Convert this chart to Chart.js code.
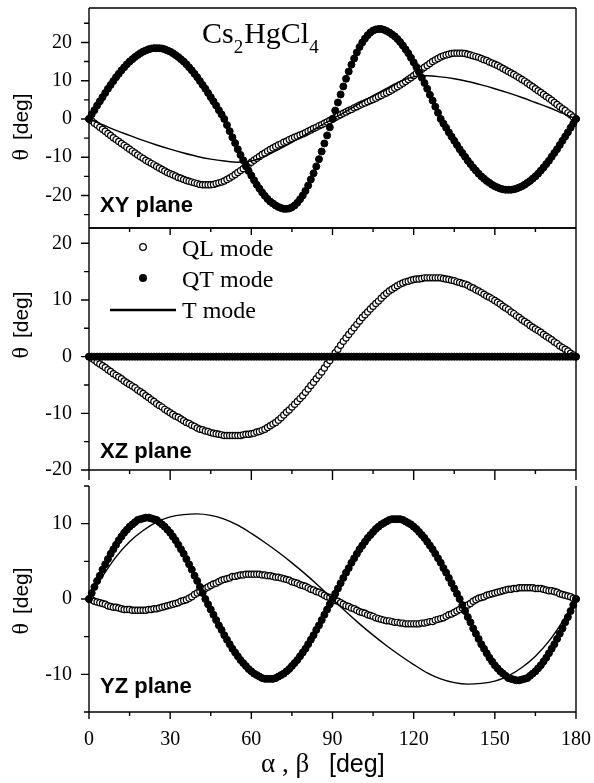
<!DOCTYPE html>
<html>
<head>
<meta charset="utf-8">
<script src="https://cdn.jsdelivr.net/npm/chart.js@4.4.1/dist/chart.umd.min.js"></script>
<style>
  html, body { margin: 0; padding: 0; background: #fff; }
  #wrap { position: relative; width: 594px; height: 783px; }
  #wrap canvas { position: absolute; left: 0; top: 0; }
</style>
</head>
<body>
<div id="wrap">
  <canvas id="xy" width="594" height="783"></canvas>
  <canvas id="xz" width="594" height="783"></canvas>
  <canvas id="yz" width="594" height="783"></canvas>
</div>
<script>
'use strict';

const SERIF = '"Liberation Serif", "DejaVu Serif", serif';
const SANS  = '"Liberation Sans", Arial, sans-serif';

/* ── Data (angles in deg) ─────────────────────────────── */
const MARK_STEP = 1;   // QL / QT markers every 1 deg, 0..180
const LINE_STEP = 5;   // T mode samples every 5 deg, 0..180

const X_TICKS = [0, 30, 60, 90, 120, 150, 180];
const X_MINOR = [15, 45, 75, 105, 135, 165];

const XY_YTICKS = [-20, -10, 0, 10, 20];
const XY_YMINOR = [-25, -15, -5, 5, 15, 25];
const XZ_YTICKS = [-20, -10, 0, 10, 20];
const XZ_YMINOR = [-15, -5, 5, 15];
const YZ_YTICKS = [-10, 0, 10];
const YZ_YMINOR = [-15, -5, 5, 15];

// XY plane
const XY_QT = [
  0, 1.2, 2.3, 3.5, 4.6, 5.7, 6.8, 7.9, 8.9, 9.9,
  10.9, 11.8, 12.7, 13.5, 14.3, 15.0, 15.6, 16.2, 16.7, 17.2,
  17.6, 17.9, 18.2, 18.4, 18.5, 18.5, 18.5, 18.4, 18.2, 17.9,
  17.6, 17.2, 16.7, 16.2, 15.6, 15.0, 14.3, 13.5, 12.7, 11.8,
  10.9, 9.9, 8.9, 7.9, 6.8, 5.7, 4.6, 3.5, 2.3, 1.2,
  0, -1.6, -3.2, -4.8, -6.3, -7.9, -9.4, -10.8, -12.2, -13.6,
  -14.8, -16.0, -17.2, -18.2, -19.2, -20.1, -20.9, -21.6, -22.1, -22.6,
  -23.0, -23.3, -23.5, -23.5, -23.4, -23.1, -22.6, -21.9, -21.0, -20.0,
  -18.8, -17.4, -15.8, -14.2, -12.4, -10.5, -8.5, -6.4, -4.3, -2.2,
  0, 2.2, 4.3, 6.4, 8.5, 10.5, 12.4, 14.2, 15.8, 17.4,
  18.8, 20.0, 21.0, 21.9, 22.6, 23.1, 23.4, 23.5, 23.5, 23.3,
  23.0, 22.6, 22.1, 21.6, 20.9, 20.1, 19.2, 18.2, 17.2, 16.0,
  14.8, 13.6, 12.2, 10.8, 9.4, 7.9, 6.3, 4.8, 3.2, 1.6,
  0, -1.2, -2.3, -3.5, -4.6, -5.7, -6.8, -7.9, -8.9, -9.9,
  -10.9, -11.8, -12.7, -13.5, -14.3, -15.0, -15.6, -16.2, -16.7, -17.2,
  -17.6, -17.9, -18.2, -18.4, -18.5, -18.5, -18.5, -18.4, -18.2, -17.9,
  -17.6, -17.2, -16.7, -16.2, -15.6, -15.0, -14.3, -13.5, -12.7, -11.8,
  -10.9, -9.9, -8.9, -7.9, -6.8, -5.7, -4.6, -3.5, -2.3, -1.2,
  0
];
const XY_QL = [
  0, -0.5, -1.1, -1.6, -2.2, -2.7, -3.2, -3.8, -4.3, -4.9,
  -5.4, -5.9, -6.4, -6.9, -7.4, -7.9, -8.4, -8.9, -9.4, -9.9,
  -10.3, -10.8, -11.2, -11.6, -12.0, -12.4, -12.8, -13.2, -13.6, -14.0,
  -14.3, -14.6, -14.9, -15.3, -15.5, -15.8, -16.1, -16.3, -16.5, -16.7,
  -16.9, -17.1, -17.2, -17.2, -17.2, -17.2, -17.1, -16.9, -16.7, -16.5,
  -16.2, -15.8, -15.4, -15.0, -14.5, -14.0, -13.5, -13.0, -12.4, -11.9,
  -11.3, -10.8, -10.3, -9.8, -9.3, -8.9, -8.4, -8.0, -7.6, -7.2,
  -6.8, -6.5, -6.1, -5.8, -5.4, -5.1, -4.8, -4.5, -4.2, -3.9,
  -3.6, -3.2, -2.9, -2.5, -2.2, -1.8, -1.5, -1.1, -0.8, -0.4,
  0, 0.4, 0.8, 1.1, 1.5, 1.8, 2.2, 2.5, 2.9, 3.2,
  3.6, 3.9, 4.2, 4.5, 4.8, 5.1, 5.4, 5.8, 6.1, 6.5,
  6.8, 7.2, 7.6, 8.0, 8.4, 8.9, 9.3, 9.8, 10.3, 10.8,
  11.3, 11.9, 12.4, 13.0, 13.5, 14.0, 14.5, 15.0, 15.4, 15.8,
  16.2, 16.5, 16.7, 16.9, 17.1, 17.2, 17.2, 17.2, 17.2, 17.1,
  16.9, 16.7, 16.5, 16.3, 16.1, 15.8, 15.5, 15.3, 14.9, 14.6,
  14.3, 14.0, 13.6, 13.2, 12.8, 12.4, 12.0, 11.6, 11.2, 10.8,
  10.3, 9.9, 9.4, 8.9, 8.4, 7.9, 7.4, 6.9, 6.4, 5.9,
  5.4, 4.9, 4.3, 3.8, 3.2, 2.7, 2.2, 1.6, 1.1, 0.5,
  0
];
const XY_T = [
  0, -1.5, -3.0, -4.3, -5.6, -6.8, -7.9, -8.9, -9.8, -10.5,
  -11.0, -11.3, -11.0, -9.8, -8.0, -6.1, -4.1, -2.0, 0,
  2.0, 4.1, 6.1, 8.0, 9.8, 11.0, 11.3, 11.0, 10.5, 9.8,
  8.9, 7.9, 6.8, 5.6, 4.3, 3.0, 1.5, 0
];

// XZ plane
const XZ_QL = [
  0, -0.3, -0.6, -1.0, -1.3, -1.6, -1.9, -2.3, -2.6, -3.0,
  -3.3, -3.6, -3.9, -4.3, -4.6, -4.9, -5.2, -5.5, -5.9, -6.2,
  -6.5, -6.9, -7.2, -7.6, -7.9, -8.3, -8.6, -8.9, -9.3, -9.6,
  -9.9, -10.2, -10.5, -10.7, -11.0, -11.3, -11.6, -11.8, -12.1, -12.3,
  -12.6, -12.8, -12.9, -13.1, -13.2, -13.4, -13.5, -13.6, -13.7, -13.8,
  -13.9, -13.9, -13.9, -13.9, -13.9, -13.9, -13.9, -13.8, -13.7, -13.7,
  -13.6, -13.5, -13.3, -13.2, -13.0, -12.8, -12.5, -12.2, -11.9, -11.6,
  -11.2, -10.8, -10.3, -9.8, -9.4, -8.9, -8.4, -7.9, -7.4, -6.9,
  -6.3, -5.7, -5.1, -4.5, -3.9, -3.3, -2.7, -2.0, -1.3, -0.7,
  0, 0.7, 1.3, 2.0, 2.7, 3.3, 3.9, 4.5, 5.1, 5.7,
  6.3, 6.9, 7.4, 7.9, 8.4, 8.9, 9.4, 9.8, 10.3, 10.8,
  11.2, 11.6, 11.9, 12.2, 12.5, 12.8, 13.0, 13.2, 13.3, 13.5,
  13.6, 13.7, 13.7, 13.8, 13.9, 13.9, 13.9, 13.9, 13.9, 13.9,
  13.9, 13.8, 13.7, 13.6, 13.5, 13.4, 13.2, 13.1, 12.9, 12.8,
  12.6, 12.3, 12.1, 11.8, 11.6, 11.3, 11.0, 10.7, 10.5, 10.2,
  9.9, 9.6, 9.3, 8.9, 8.6, 8.3, 7.9, 7.6, 7.2, 6.9,
  6.5, 6.2, 5.9, 5.5, 5.2, 4.9, 4.6, 4.3, 3.9, 3.6,
  3.3, 3.0, 2.6, 2.3, 1.9, 1.6, 1.3, 1.0, 0.6, 0.3,
  0
];
const XZ_QT = [
  0, 0, 0, 0, 0, 0, 0, 0, 0, 0,  0, 0, 0, 0, 0, 0, 0, 0, 0, 0,
  0, 0, 0, 0, 0, 0, 0, 0, 0, 0,  0, 0, 0, 0, 0, 0, 0, 0, 0, 0,
  0, 0, 0, 0, 0, 0, 0, 0, 0, 0,  0, 0, 0, 0, 0, 0, 0, 0, 0, 0,
  0, 0, 0, 0, 0, 0, 0, 0, 0, 0,  0, 0, 0, 0, 0, 0, 0, 0, 0, 0,
  0, 0, 0, 0, 0, 0, 0, 0, 0, 0,  0, 0, 0, 0, 0, 0, 0, 0, 0, 0,
  0, 0, 0, 0, 0, 0, 0, 0, 0, 0,  0, 0, 0, 0, 0, 0, 0, 0, 0, 0,
  0, 0, 0, 0, 0, 0, 0, 0, 0, 0,  0, 0, 0, 0, 0, 0, 0, 0, 0, 0,
  0, 0, 0, 0, 0, 0, 0, 0, 0, 0,  0, 0, 0, 0, 0, 0, 0, 0, 0, 0,
  0, 0, 0, 0, 0, 0, 0, 0, 0, 0,  0, 0, 0, 0, 0, 0, 0, 0, 0, 0,
  0
];
const XZ_T = [
  0, 0, 0, 0, 0, 0, 0, 0, 0, 0, 0, 0, 0, 0, 0, 0, 0, 0, 0,
  0, 0, 0, 0, 0, 0, 0, 0, 0, 0, 0, 0, 0, 0, 0, 0, 0, 0
];

// YZ plane
const YZ_QT = [
  0, 0.8, 1.6, 2.4, 3.1, 3.9, 4.6, 5.3, 6.0, 6.6,
  7.2, 7.8, 8.3, 8.8, 9.2, 9.6, 9.9, 10.2, 10.5, 10.6,
  10.7, 10.8, 10.8, 10.7, 10.6, 10.5, 10.2, 9.9, 9.6, 9.2,
  8.8, 8.3, 7.8, 7.2, 6.6, 6.0, 5.3, 4.6, 3.9, 3.1,
  2.4, 1.6, 0.8, 0, -0.7, -1.4, -2.1, -2.8, -3.5, -4.1,
  -4.8, -5.4, -6.0, -6.6, -7.1, -7.6, -8.1, -8.5, -8.9, -9.3,
  -9.6, -9.9, -10.1, -10.3, -10.5, -10.6, -10.6, -10.6, -10.6, -10.5,
  -10.3, -10.1, -9.9, -9.6, -9.3, -8.9, -8.5, -8.1, -7.6, -7.1,
  -6.6, -6.0, -5.4, -4.8, -4.1, -3.5, -2.8, -2.1, -1.4, -0.7,
  0, 0.7, 1.4, 2.1, 2.8, 3.5, 4.1, 4.8, 5.4, 6.0,
  6.6, 7.1, 7.6, 8.1, 8.5, 8.9, 9.3, 9.6, 9.9, 10.1,
  10.3, 10.5, 10.6, 10.6, 10.6, 10.6, 10.5, 10.3, 10.1, 9.9,
  9.6, 9.3, 8.9, 8.5, 8.1, 7.6, 7.1, 6.6, 6.0, 5.4,
  4.8, 4.1, 3.5, 2.8, 2.1, 1.4, 0.7, 0, -0.8, -1.6,
  -2.4, -3.1, -3.9, -4.6, -5.3, -6.0, -6.6, -7.2, -7.8, -8.3,
  -8.8, -9.2, -9.6, -9.9, -10.2, -10.5, -10.6, -10.7, -10.8, -10.8,
  -10.7, -10.6, -10.5, -10.2, -9.9, -9.6, -9.2, -8.8, -8.3, -7.8,
  -7.2, -6.6, -6.0, -5.3, -4.6, -3.9, -3.1, -2.4, -1.6, -0.8,
  0
];
const YZ_QL = [
  0, -0.1, -0.3, -0.4, -0.5, -0.6, -0.7, -0.9, -1.0, -1.1,
  -1.1, -1.2, -1.3, -1.4, -1.4, -1.4, -1.5, -1.5, -1.5, -1.5,
  -1.5, -1.5, -1.4, -1.4, -1.3, -1.3, -1.2, -1.1, -1.0, -0.9,
  -0.8, -0.7, -0.6, -0.5, -0.3, -0.2, -0.1, 0.1, 0.3, 0.6,
  0.8, 1.0, 1.2, 1.4, 1.6, 1.8, 2.0, 2.1, 2.3, 2.5,
  2.6, 2.7, 2.8, 3.0, 3.0, 3.1, 3.2, 3.2, 3.3, 3.3,
  3.3, 3.3, 3.3, 3.3, 3.2, 3.2, 3.1, 3.1, 3.0, 2.9,
  2.9, 2.8, 2.7, 2.6, 2.5, 2.3, 2.2, 2.1, 1.9, 1.8,
  1.7, 1.5, 1.3, 1.2, 1.0, 0.9, 0.7, 0.5, 0.3, 0.2,
  0, -0.2, -0.3, -0.5, -0.7, -0.9, -1.0, -1.2, -1.3, -1.5,
  -1.7, -1.8, -1.9, -2.1, -2.2, -2.3, -2.5, -2.6, -2.7, -2.8,
  -2.9, -2.9, -3.0, -3.1, -3.1, -3.2, -3.2, -3.3, -3.3, -3.3,
  -3.3, -3.3, -3.3, -3.2, -3.2, -3.1, -3.0, -3.0, -2.8, -2.7,
  -2.6, -2.5, -2.3, -2.1, -2.0, -1.8, -1.6, -1.4, -1.2, -1.0,
  -0.8, -0.6, -0.3, -0.1, 0.1, 0.2, 0.3, 0.5, 0.6, 0.7,
  0.8, 0.9, 1.0, 1.1, 1.2, 1.3, 1.3, 1.4, 1.4, 1.5,
  1.5, 1.5, 1.5, 1.5, 1.5, 1.4, 1.4, 1.4, 1.3, 1.2,
  1.1, 1.1, 1.0, 0.9, 0.7, 0.6, 0.5, 0.4, 0.3, 0.1,
  0
];
const YZ_T = [
  0, 3.0, 5.6, 7.6, 9.1, 10.2, 10.9, 11.2, 11.3, 11.1,
  10.6, 9.8, 8.7, 7.5, 6.2, 4.8, 3.3, 1.7, 0,
  -1.7, -3.3, -4.8, -6.2, -7.5, -8.7, -9.8, -10.6, -11.1, -11.3,
  -11.2, -10.9, -10.2, -9.1, -7.6, -5.6, -3.0, 0
];

/* ── Helpers ──────────────────────────────────────────── */
function markers(values, filled) {
  return {
    data: values.map((v, i) => ({ x: i * MARK_STEP, y: v })),
    showLine: false,
    pointRadius: filled ? 3.5 : 3.1,
    pointBorderWidth: filled ? 1 : 1.2,
    pointBackgroundColor: filled ? '#000' : '#fff',
    pointBorderColor: '#000',
    clip: false,
  };
}

function line(values) {
  return {
    data: values.map((v, i) => ({ x: i * LINE_STEP, y: v })),
    showLine: true,
    pointRadius: 0,
    borderColor: '#000',
    borderWidth: 1.4,
    tension: 0.4,
    cubicInterpolationMode: 'monotone',
    clip: false,
  };
}

// draws text pieces one after another: [text, font, gapBefore, dy]
function runs(ctx, parts, x, y) {
  parts.forEach(([text, font, gap, dy]) => {
    ctx.font = font;
    x += gap || 0;
    ctx.fillText(text, x, y + (dy || 0));
    x += ctx.measureText(text).width;
  });
}

function yTitle(ctx, cy) {
  ctx.save();
  ctx.translate(28, cy);
  ctx.rotate(-Math.PI / 2);
  ctx.textAlign = 'left';
  ctx.textBaseline = 'alphabetic';
  ctx.font = '24px ' + SERIF;
  const w1 = ctx.measureText('\u03b8').width;
  ctx.font = '21px ' + SANS;
  const w2 = ctx.measureText('[deg]').width;
  const gap = 9;
  const x0 = -(w1 + gap + w2) / 2;
  ctx.font = '24px ' + SERIF;
  ctx.fillText('\u03b8', x0, 0);
  ctx.font = '21px ' + SANS;
  ctx.fillText('[deg]', x0 + w1 + gap, 0);
  ctx.restore();
}

/* ── Panel-specific decorations ───────────────────────── */
function drawFormula(ctx) {
  ctx.textAlign = 'left';
  ctx.textBaseline = 'alphabetic';
  const big = '30px ' + SERIF, sub = '19px ' + SERIF;
  runs(ctx, [['Cs', big], ['2', sub, 0, 10], ['HgCl', big, 1], ['4', sub, 0, 10]], 202, 43);
}

function drawLegend(ctx) {
  ctx.save();
  ctx.strokeStyle = '#000';
  ctx.fillStyle = '#000';
  ctx.lineWidth = 1.3;
  ctx.beginPath(); ctx.arc(143, 247, 3.3, 0, Math.PI * 2); ctx.stroke();
  ctx.beginPath(); ctx.arc(143, 278, 4, 0, Math.PI * 2); ctx.fill();
  ctx.lineWidth = 2.5;
  ctx.beginPath(); ctx.moveTo(110, 310); ctx.lineTo(176, 310); ctx.stroke();
  ctx.font = '24px ' + SERIF;
  ctx.textAlign = 'left';
  ctx.textBaseline = 'alphabetic';
  ctx.fillText('QL mode', 182, 256);
  ctx.fillText('QT mode', 182, 287);
  ctx.fillText('T mode', 182, 318);
  ctx.restore();
}

function drawXTitle(ctx) {
  ctx.textAlign = 'left';
  ctx.textBaseline = 'alphabetic';
  ctx.font = '27px ' + SERIF;
  ctx.fillText('\u03b1 , \u03b2', 261, 772);
  ctx.font = '25px ' + SANS;
  ctx.fillText('[deg]', 329, 772);
}

const PANELS = [
  { id: 'xy', top: 8, bottom: 228, yMin: -28.5, yMax: 29,
    yTicks: XY_YTICKS, yMinor: XY_YMINOR, ql: XY_QL, qt: XY_QT, t: XY_T,
    name: 'XY plane', nameY: 212, titleY: 127,
    topLine: true, topTicks: false, downTicks: 0, showX: false, extra: drawFormula },
  { id: 'xz', top: 228, bottom: 470, yMin: -20, yMax: 22.7,
    yTicks: XZ_YTICKS, yMinor: XZ_YMINOR, ql: XZ_QL, qt: XZ_QT, t: XZ_T,
    name: 'XZ plane', nameY: 458, titleY: 325,
    topLine: true, topTicks: true, downTicks: 10, showX: false, extra: drawLegend },
  { id: 'yz', top: 486, bottom: 712, yMin: -15, yMax: 15,
    yTicks: YZ_YTICKS, yMinor: YZ_YMINOR, ql: YZ_QL, qt: YZ_QT, t: YZ_T,
    name: 'YZ plane', nameY: 693, titleY: 601,
    topLine: false, topTicks: false, downTicks: 7, showX: true, extra: drawXTitle },
];

/* ── Frame, ticks and texts ───────────────────────────── */
function framePlugin(p) {
  return {
    id: 'frame-' + p.id,
    afterDatasetsDraw(chart) {
      const { ctx, chartArea: a } = chart;
      const xs = chart.scales.x, ys = chart.scales.y;
      ctx.save();
      ctx.strokeStyle = '#000';
      ctx.lineWidth = 1.4;
      ctx.beginPath();
      ctx.moveTo(a.left, a.top);  ctx.lineTo(a.left, a.bottom);
      ctx.moveTo(a.right, a.top); ctx.lineTo(a.right, a.bottom);
      ctx.moveTo(a.left, a.bottom); ctx.lineTo(a.right, a.bottom);
      if (p.topLine) { ctx.moveTo(a.left, a.top); ctx.lineTo(a.right, a.top); }

      p.yTicks.forEach(v => { const py = ys.getPixelForValue(v); ctx.moveTo(a.left - 8, py); ctx.lineTo(a.left, py); });
      p.yMinor.forEach(v => { const py = ys.getPixelForValue(v); ctx.moveTo(a.left - 5, py); ctx.lineTo(a.left, py); });

      if (p.topTicks) {
        X_TICKS.forEach(v => { const px = xs.getPixelForValue(v); ctx.moveTo(px, a.top); ctx.lineTo(px, a.top + 7); });
        X_MINOR.forEach(v => { const px = xs.getPixelForValue(v); ctx.moveTo(px, a.top); ctx.lineTo(px, a.top + 4); });
      }
      if (p.downTicks) {
        X_TICKS.forEach(v => { const px = xs.getPixelForValue(v); ctx.moveTo(px, a.bottom); ctx.lineTo(px, a.bottom + p.downTicks); });
        X_MINOR.forEach(v => { const px = xs.getPixelForValue(v); ctx.moveTo(px, a.bottom); ctx.lineTo(px, a.bottom + 4); });
      }
      ctx.stroke();

      ctx.fillStyle = '#000';
      ctx.font = 'bold 22px ' + SANS;
      ctx.textAlign = 'left';
      ctx.textBaseline = 'alphabetic';
      ctx.fillText(p.name, 100, p.nameY);

      yTitle(ctx, p.titleY);
      p.extra(ctx);
      ctx.restore();
    }
  };
}

/* ── Charts ───────────────────────────────────────────── */
function buildPanel(p) {
  const ctx = document.getElementById(p.id).getContext('2d');
  return new Chart(ctx, {
    type: 'line',
    data: {
      datasets: [markers(p.qt, true), line(p.t), markers(p.ql, false)]
    },
    options: {
      responsive: false,
      animation: false,
      events: [],
      layout: { padding: { left: 0, right: 18, top: p.top, bottom: p.showX ? 0 : 783 - p.bottom } },
      plugins: { legend: { display: false }, tooltip: { enabled: false } },
      scales: {
        x: {
          type: 'linear', min: 0, max: 180,
          display: p.showX,
          afterFit: s => {
            s.height = p.showX ? 783 - p.bottom : 0;
            s.paddingLeft = 0; s.paddingRight = 0;
          },
          afterBuildTicks: s => { s.ticks = X_TICKS.map(v => ({ value: v })); },
          grid: { display: false, drawTicks: false },
          border: { display: false },
          ticks: {
            color: '#000', padding: 16, maxRotation: 0, autoSkip: false,
            font: { family: SERIF, size: 20 },
            callback: v => String(v)
          }
        },
        y: {
          min: p.yMin, max: p.yMax,
          afterFit: s => {
            s.width = 89;
            s.paddingTop = 0; s.paddingBottom = 0;
          },
          afterBuildTicks: s => { s.ticks = p.yTicks.map(v => ({ value: v })); },
          grid: { display: false, drawTicks: false },
          border: { display: false },
          ticks: {
            color: '#000', padding: 17,
            font: { family: SERIF, size: 20 },
            callback: v => String(v)
          }
        }
      }
    },
    plugins: [framePlugin(p)]
  });
}

PANELS.forEach(buildPanel);
</script>
</body>
</html>
